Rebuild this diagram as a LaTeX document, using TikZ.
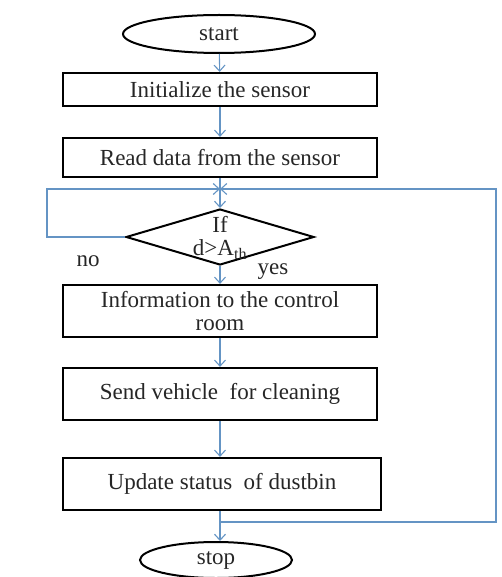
\documentclass[tikz,border=0pt]{standalone}
\usepackage{fontspec}
\setmainfont{Liberation Serif}
\usepackage{tikz}
\usetikzlibrary{arrows.meta, positioning, calc, shapes.geometric}
\definecolor{flowblue}{RGB}{100,148,196}

\begin{document}
\begin{tikzpicture}[
  x=1pt, y=-1pt,
  every node/.style={font=\fontsize{23}{23}\selectfont, text=black!85},
  term/.style={ellipse, draw, line width=2pt, inner sep=0pt},
  box/.style={rectangle, draw, line width=2.2pt, minimum width=314pt, inner sep=0pt, align=center},
  cond/.style={diamond, draw, line width=2pt, minimum width=188pt, minimum height=56pt, inner sep=0pt},
  arr/.style={draw=flowblue, line width=1.1pt, -{Straight Barb[length=6pt, width=11pt]}},
  ln/.style={draw=flowblue, line width=1.1pt}
]
\useasboundingbox (0,0) rectangle (502,577);
\node[term, minimum width=192pt, minimum height=38pt] (start) at (219,34) {start};
\node[box, minimum height=33pt] (init) at (220,89.5) {Initialize the sensor};
\node[box, minimum height=39pt] (read) at (220,157.5) {Read data from the sensor};
\node[cond] (check) at (220,237) {};
\node[align=center, inner sep=0pt] (checktxt) at (220,238) {If\\d>A\textsubscript{th}};
\node[box, minimum height=52pt] (info) at (220,311) {Information to the control\\room};
\node[box, minimum height=52pt] (send) at (220,394) {Send vehicle\ \ for cleaning};
\node[box, minimum height=52pt, minimum width=318pt] (upd) at (222,484) {Update status\ \ of dustbin};
\node[term, minimum width=152pt, minimum height=36pt] (stop) at (216,560) {stop};
\node (no) at (88,261) {no};
\node (yes) at (273,272) {yes};
\coordinate (jn) at (220,189);
\coordinate (nl) at (47,189);
\coordinate (br) at (220,522);
\coordinate (rt) at (496,189);

\draw[arr] (start) -- (init);
\draw[arr] (init) -- (read);
\draw[arr] (read.south -| jn) -- (check.north);
\draw[arr] (check.west) -| (nl) -- (jn);
\draw[arr] (check.south) -- (info.north);
\draw[arr] (info) -- (send);
\draw[arr] (send.south) -- (send.south |- upd.north);
\draw[arr] (upd.south -| jn) -- (stop.north -| jn);
\draw[arr] (br) -| (rt) -- (jn);
\end{tikzpicture}
\end{document}
